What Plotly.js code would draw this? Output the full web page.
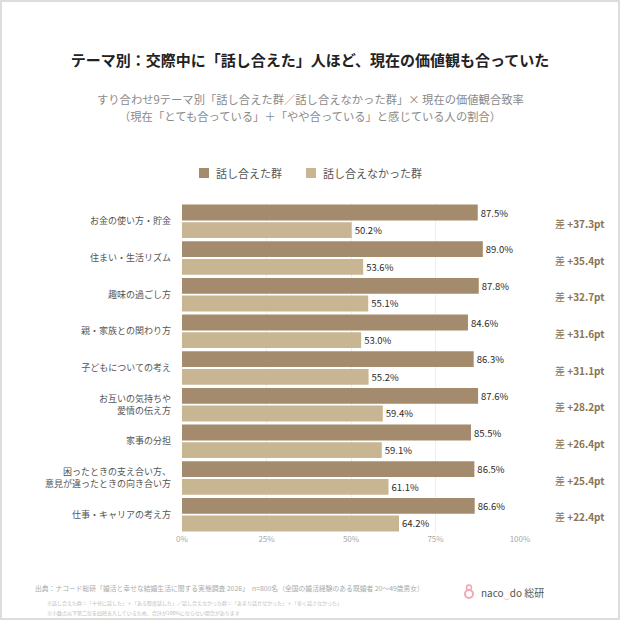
<!DOCTYPE html>
<html>
<head>
<meta charset="utf-8">
<script src="https://cdn.plot.ly/plotly-3.0.1.min.js"></script>
<style>html,body{margin:0;padding:0;background:#fff;}#chart{width:620px;height:620px;}</style>
</head>
<body>
<div id="chart"></div>
<script>
const categories = [
  "お金の使い方・貯金",
  "住まい・生活リズム",
  "趣味の過ごし方",
  "親・家族との関わり方",
  "子どもについての考え",
  "お互いの気持ちや<br>愛情の伝え方",
  "家事の分担",
  "困ったときの支え合い方、<br>意見が違ったときの向き合い方",
  "仕事・キャリアの考え方"
];
const talkedValues = [87.5, 89.0, 87.8, 84.6, 86.3, 87.6, 85.5, 86.5, 86.6];
const notTalkedValues = [50.2, 53.6, 55.1, 53.0, 55.2, 59.4, 59.1, 61.1, 64.2];
const seriesNames = ["話し合えた群", "話し合えなかった群"];
const seriesColors = ["#a48b6d", "#c8b693"];
const xTickVals = [0, 25, 50, 75, 100];
const xTickText = ["0%", "25%", "50%", "75%", "100%"];

const FONT = "Noto Sans CJK JP, Noto Sans, sans-serif";
const L = 182, R = 520, T = 203, B = 533;
const px = x => (x - L) / (R - L);
const py = y => (B - y) / (B - T);

const traces = [talkedValues, notTalkedValues].map((vals, k) => ({
  type: "bar", orientation: "h", name: seriesNames[k],
  y: categories, x: vals,
  text: vals.map(v => v.toFixed(1) + "%"),
  textposition: "outside", cliponaxis: false,
  textfont: {family: FONT, size: 9.5, color: "#2a2a2a"},
  marker: {color: seriesColors[k]}, hoverinfo: "x+y"
}));

const annotations = [
  {xref: "paper", yref: "paper", x: px(310), y: py(99), xanchor: "center", yanchor: "middle", showarrow: false,
   text: "すり合わせ9テーマ別「話し合えた群／話し合えなかった群」× 現在の価値観合致率",
   font: {family: FONT, size: 11.3, color: "#8a8a8a"}},
  {xref: "paper", yref: "paper", x: px(310), y: py(116), xanchor: "center", yanchor: "middle", showarrow: false,
   text: "（現在「とても合っている」＋「やや合っている」と感じている人の割合）",
   font: {family: FONT, size: 11.3, color: "#8a8a8a"}},
  {xref: "paper", yref: "paper", x: px(214), y: py(173), xanchor: "left", yanchor: "middle", showarrow: false,
   text: seriesNames[0], font: {family: FONT, size: 11, color: "#555"}},
  {xref: "paper", yref: "paper", x: px(321), y: py(173), xanchor: "left", yanchor: "middle", showarrow: false,
   text: seriesNames[1], font: {family: FONT, size: 11, color: "#555"}},
  {xref: "paper", yref: "paper", x: px(33), y: py(588), xanchor: "left", yanchor: "middle", showarrow: false,
   text: "出典：ナコード総研「婚活と幸せな結婚生活に関する実態調査 2026」　n=800名（全国の婚活経験のある既婚者 20〜49歳男女）",
   font: {family: FONT, size: 6.8, color: "#aaaaaa"}},
  {xref: "paper", yref: "paper", x: px(45), y: py(603), xanchor: "left", yanchor: "middle", showarrow: false,
   text: "※話し合えた群＝「十分に話した」＋「ある程度話した」／話し合えなかった群＝「あまり話せなかった」＋「全く話さなかった」",
   font: {family: FONT, size: 5, color: "#bbbbbb"}},
  {xref: "paper", yref: "paper", x: px(45), y: py(613), xanchor: "left", yanchor: "middle", showarrow: false,
   text: "※小数点以下第二位を四捨五入しているため、合計が100%にならない場合があります",
   font: {family: FONT, size: 5, color: "#bbbbbb"}},
  {xref: "paper", yref: "paper", x: px(479), y: py(592), xanchor: "left", yanchor: "middle", showarrow: false,
   text: "naco<span style='color:#f2a7b5'>‿</span>do 総研",
   font: {family: FONT, size: 10, color: "#555555"}}
];
categories.forEach((c, i) => {
  const d = (talkedValues[i] - notTalkedValues[i]).toFixed(1);
  annotations.push({
    xref: "paper", yref: "y", x: px(607), y: c, xanchor: "right", yanchor: "middle",
    showarrow: false, yshift: -2,
    text: "差 <b>+" + d + "pt</b>",
    font: {family: FONT, size: 10, color: "#8b7452"}
  });
});

const shapes = [
  {type: "rect", xref: "paper", yref: "paper", x0: px(1), x1: px(619), y0: py(619), y1: py(1),
   line: {color: "#dddddd", width: 2}, fillcolor: "rgba(0,0,0,0)", layer: "below"},
  {type: "rect", xref: "paper", yref: "paper", x0: px(199), x1: px(209), y0: py(178), y1: py(168),
   line: {width: 0}, fillcolor: seriesColors[0]},
  {type: "rect", xref: "paper", yref: "paper", x0: px(306), x1: px(316), y0: py(178), y1: py(168),
   line: {width: 0}, fillcolor: seriesColors[1]},
  {type: "circle", xref: "paper", yref: "paper", x0: px(465), x1: px(473), y0: py(598), y1: py(590),
   line: {color: "#f2a7b5", width: 2}, fillcolor: "rgba(0,0,0,0)"},
  {type: "circle", xref: "paper", yref: "paper", x0: px(466.5), x1: px(471.5), y0: py(590), y1: py(585),
   line: {color: "#f2a7b5", width: 1.5}, fillcolor: "rgba(0,0,0,0)"}
];

const layout = {
  width: 620, height: 620,
  margin: {l: L, r: 620 - R, t: T, b: 620 - B, pad: 0},
  paper_bgcolor: "#ffffff", plot_bgcolor: "#ffffff",
  font: {family: FONT, color: "#555"},
  title: {text: "<b>テーマ別：交際中に「話し合えた」人ほど、現在の価値観も合っていた</b>",
          x: 0.5, xref: "container", xanchor: "center", y: 1 - 61/620, yref: "container", yanchor: "middle",
          font: {family: FONT, size: 15, color: "#222"}},
  barmode: "group", bargap: 0.04, bargroupgap: 0.1,
  showlegend: false,
  xaxis: {range: [0, 100], tickvals: xTickVals, ticktext: xTickText, showgrid: true,
          gridcolor: "#efefef", zeroline: false, showline: false, ticks: "",
          tickfont: {family: FONT, size: 8, color: "#aaaaaa"}, fixedrange: true},
  yaxis: {autorange: "reversed", type: "category", showgrid: false, zeroline: false, ticks: "",
          ticklabelstandoff: 10, tickfont: {family: FONT, size: 9, color: "#555"}, fixedrange: true},
  annotations: annotations,
  shapes: shapes
};

Plotly.newPlot("chart", traces, layout, {displayModeBar: false, staticPlot: true});
</script>
</body>
</html>
